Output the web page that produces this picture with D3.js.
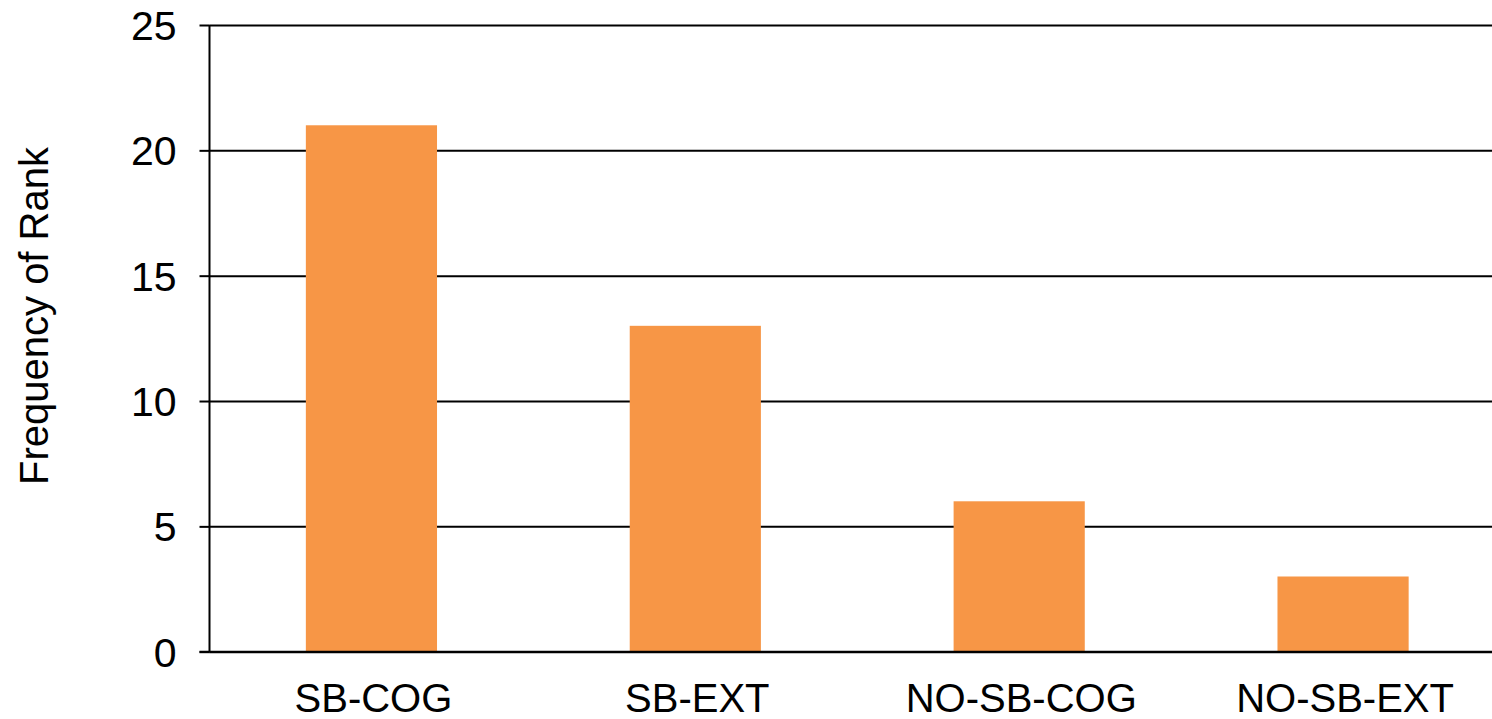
<!DOCTYPE html>
<html>
<head>
<meta charset="utf-8">
<script src="https://cdn.jsdelivr.net/npm/d3@7"></script>
<style>
  html, body { margin: 0; padding: 0; background: #fff; }
  svg { display: block; font-family: "Liberation Sans", Arial, sans-serif; }
</style>
</head>
<body>
<svg id="chart" width="1492" height="719"></svg>
<script>
// Frequency of rank per condition
const categories = ["SB-COG", "SB-EXT", "NO-SB-COG", "NO-SB-EXT"];
const frequencies = [21, 13, 6, 3];
const yTicks = [0, 5, 10, 15, 20, 25];

const svg = d3.select("#chart");
const W = 1492, H = 719;
const plot = { left: 209.5, right: 1505, top: 25, bottom: 651.7 };

const x = d3.scaleBand().domain(categories).range([plot.left, plot.right]).padding(0);
const y = d3.scaleLinear().domain([0, 25]).range([plot.bottom, plot.top]);
const barFrac = 0.405;

// horizontal gridlines with tick marks
const yAxis = d3.axisLeft(y).tickValues(yTicks).tickSize(10).tickPadding(23).tickFormat(d3.format("d"));
const gy = svg.append("g").attr("transform", `translate(${plot.left},0)`).call(yAxis);
gy.select(".domain").remove();
gy.selectAll(".tick line").attr("stroke", "#000").attr("stroke-width", 2);
gy.selectAll(".tick text").attr("fill", "#000").style("font-size", "41px").attr("dy", "0.35em");
gy.selectAll(".tick").append("line")
  .attr("x1", 0).attr("x2", W - plot.left)
  .attr("stroke", "#000").attr("stroke-width", 2);

// bars
svg.append("g").selectAll("rect")
  .data(categories.map((c, i) => ({ c, v: frequencies[i] })))
  .join("rect")
  .attr("x", d => x(d.c) + x.bandwidth() * (1 - barFrac) / 2)
  .attr("width", x.bandwidth() * barFrac)
  .attr("y", d => y(d.v))
  .attr("height", d => y(0) - y(d.v))
  .attr("fill", "#F79646");

// baseline redrawn over bars
svg.append("line")
  .attr("x1", plot.left - 10).attr("x2", W)
  .attr("y1", y(0)).attr("y2", y(0))
  .attr("stroke", "#000").attr("stroke-width", 2);

// vertical axis line
svg.append("line")
  .attr("x1", plot.left).attr("x2", plot.left)
  .attr("y1", y(25)).attr("y2", y(0))
  .attr("stroke", "#000").attr("stroke-width", 2);

// category labels
svg.append("g").selectAll("text")
  .data(categories)
  .join("text")
  .attr("x", d => x(d) + x.bandwidth() / 2 + 2)
  .attr("y", plot.bottom + 60)
  .attr("text-anchor", "middle")
  .style("font-size", "40px")
  .attr("fill", "#000")
  .text(d => d);

// y axis title
svg.append("text")
  .attr("transform", `translate(48,316) rotate(-90)`)
  .attr("text-anchor", "middle")
  .style("font-size", "40px")
  .attr("fill", "#000")
  .text("Frequency of Rank");
</script>
</body>
</html>
